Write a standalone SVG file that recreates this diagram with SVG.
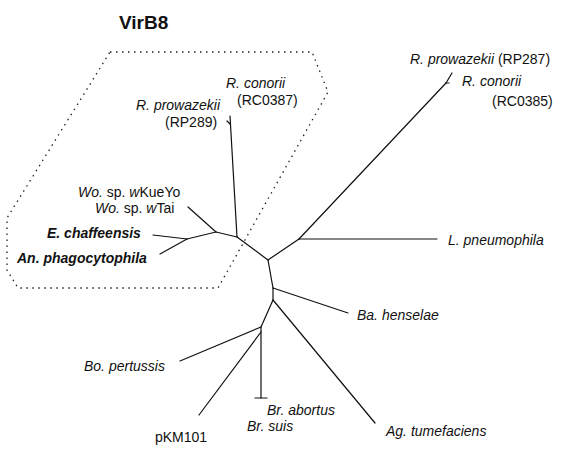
<svg xmlns="http://www.w3.org/2000/svg" width="566" height="453" viewBox="0 0 566 453">
<style>
.t{font-family:"Liberation Sans",Arial,sans-serif;font-size:14px;fill:#111}
.i{font-style:italic}
.b{font-weight:bold}
.e{fill:none;stroke:#111;stroke-width:1.2;stroke-linecap:round;stroke-linejoin:round}
.d{fill:none;stroke:#222;stroke-width:1.3;stroke-dasharray:1.5 4.5}
</style>
<rect width="566" height="453" fill="#fff"/>
<text class="t b" x="119" y="29" style="font-size:19px">VirB8</text>
<polygon id="clade" class="d" points="110,52 312,52 328,92 218,288 18,288 7,270 7,218"/>
<g id="connectors" class="e">
<path d="M237,237 L230,116"/>
<path d="M230,124 L227,121"/>
<path d="M237,237 L216,232"/>
<path d="M216,232 L188,207"/>
<path d="M216,232 L187,239"/>
<path d="M187,239 L153,235"/>
<path d="M187,239 L160,254"/>
<path d="M237,237 L268,260"/>
<path d="M268,260 L299,239"/>
<path d="M299,239 L446,83"/>
<path d="M446,83 L452,73"/>
<path d="M446,83 L449,83"/>
<path d="M299,239 L437,239"/>
<path d="M268,260 L273,288"/>
<path d="M273,288 L273,300"/>
<path d="M273,288 L348,313"/>
<path d="M273,300 L375,423"/>
<path d="M273,300 L261,327"/>
<path d="M261,327 L180,361"/>
<path d="M261,327 L261,398"/>
<path d="M255,398 L267,398"/>
<path d="M261,332 L199,415"/>
</g>
<g id="n-rp289"><text class="t i" x="136" y="110">R. prowazekii</text><text class="t" x="165" y="127">(RP289)</text></g>
<g id="n-rc0387"><text class="t i" x="226" y="88">R. conorii</text><text class="t" x="237" y="105">(RC0387)</text></g>
<g id="n-wkueyo"><text class="t" x="78" y="197"><tspan class="i">Wo.</tspan> sp. <tspan class="i">w</tspan>KueYo</text></g>
<g id="n-wtai"><text class="t" x="95" y="213"><tspan class="i">Wo.</tspan> sp. <tspan class="i">w</tspan>Tai</text></g>
<g id="n-echaff"><text class="t i b" x="47" y="238">E. chaffeensis</text></g>
<g id="n-anphago"><text class="t i b" x="17" y="263">An. phagocytophila</text></g>
<g id="n-rp287"><text class="t" x="410" y="64"><tspan class="i">R. prowazekii</tspan> (RP287)</text></g>
<g id="n-rc0385"><text class="t i" x="462" y="86">R. conorii</text><text class="t" x="492" y="106">(RC0385)</text></g>
<g id="n-lpneumo"><text class="t i" x="448" y="245">L. pneumophila</text></g>
<g id="n-bahens"><text class="t i" x="357" y="320">Ba. henselae</text></g>
<g id="n-bopert"><text class="t i" x="84" y="371">Bo. pertussis</text></g>
<g id="n-brab"><text class="t i" x="267" y="415">Br. abortus</text></g>
<g id="n-brsuis"><text class="t i" x="247" y="431">Br. suis</text></g>
<g id="n-pkm"><text class="t" x="155" y="442">pKM101</text></g>
<g id="n-agtum"><text class="t i" x="386" y="436">Ag. tumefaciens</text></g>
</svg>
